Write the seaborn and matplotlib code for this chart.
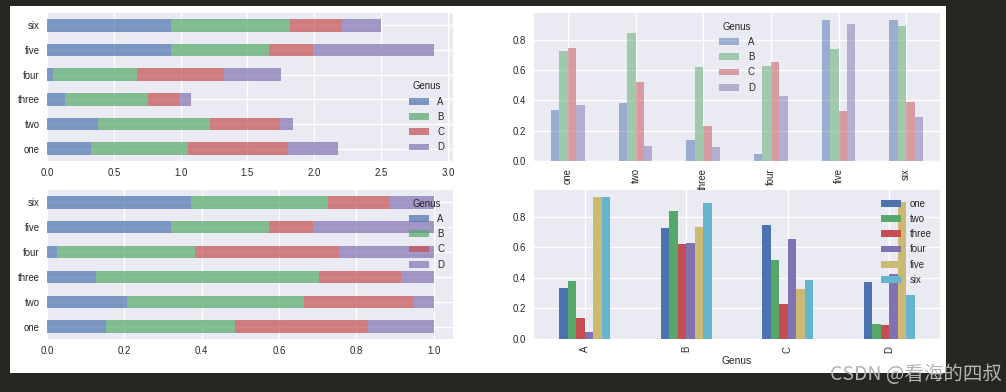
import matplotlib
matplotlib.use("Agg")
import matplotlib.pyplot as plt
from matplotlib.patches import Rectangle, Patch
import numpy as np
import pandas as pd
import seaborn as sns

# ---- data ----
rows = ['one', 'two', 'three', 'four', 'five', 'six']
genus = ['A', 'B', 'C', 'D']
A = [0.333, 0.382, 0.137, 0.045, 0.929, 0.929]
B = [0.725, 0.841, 0.619, 0.627, 0.735, 0.890]
C = [0.747, 0.518, 0.229, 0.652, 0.330, 0.389]
D = [0.372, 0.100, 0.091, 0.428, 0.900, 0.291]

colors = ["#4C72B0", "#55A868", "#C44E52", "#8172B2", "#CCB974", "#64B5CD"]

wide = pd.DataFrame({'A': A, 'B': B, 'C': C, 'D': D}, index=rows)
wide.columns.name = 'Genus'
long_df = wide.reset_index(names='row').melt(id_vars='row', var_name='Genus', value_name='value')

sns.set_theme(style='darkgrid', rc={
    'xtick.major.size': 0, 'ytick.major.size': 0,
    'xtick.major.pad': 5.0, 'ytick.major.pad': 5.5,
    'grid.linewidth': 1.0,
})
plt.rcParams['font.family'] = ['Liberation Sans', 'DejaVu Sans']
TICK = 6.9
TXT = '.15'

W, H = 1006, 392
fig = plt.figure(figsize=(W / 100, H / 100), dpi=100, facecolor='#262622')
fig.add_artist(Rectangle((10 / W, 1 - 373 / H), (946 - 10) / W, (373 - 6) / H,
                         transform=fig.transFigure, facecolor='white',
                         edgecolor='none', zorder=-10))


def add_ax(l, t, r, b):
    return fig.add_axes([l / W, 1 - b / H, (r - l) / W, (b - t) / H])


ax_tl = add_ax(47, 13, 453, 161)
ax_tr = add_ax(534, 13, 940, 161)
ax_bl = add_ax(47, 190, 453, 339)
ax_br = add_ax(534, 190, 940, 339)


def legend(ax, n, alpha, labels, title, loc):
    handles = [Patch(facecolor=colors[i], alpha=alpha, edgecolor='none') for i in range(n)]
    lg = ax.legend(handles, labels, title=title, loc=loc, frameon=False,
                   fontsize=TICK, title_fontsize=TICK, labelspacing=0.55,
                   handlelength=2.1, handleheight=0.7, handletextpad=0.9)
    return lg


def stacked(ax, data, xmax):
    pos = np.arange(len(rows))
    left = np.zeros(len(rows))
    for i, g in enumerate(genus):
        vals = data[g].values
        ax.barh(pos, vals, left=left, height=0.5, color=colors[i], alpha=0.7,
                linewidth=0)
        left = left + vals
    ax.set_yticks(pos)
    ax.set_yticklabels(rows)
    ax.set_ylim(-0.5, len(rows) - 0.5)
    ax.set_xlim(0, xmax)


# top-left: stacked raw values
tot = wide.sum(axis=1)
stacked(ax_tl, wide, tot.max() * 1.05)
legend(ax_tl, 4, 0.7, genus, 'Genus', 'lower right')

# bottom-left: normalized stacked
norm = wide.div(tot, axis=0)
stacked(ax_bl, norm, 1.05)
legend(ax_bl, 4, 0.7, genus, 'Genus', 'upper right')

# top-right: grouped by row
sns.barplot(data=long_df, x='row', y='value', hue='Genus', order=rows,
            hue_order=genus, palette=colors[:4], width=0.5, alpha=0.5,
            saturation=1, errorbar=None, linewidth=0, legend=False, ax=ax_tr)
ax_tr.set_ylim(0, long_df['value'].max() * 1.05)
ax_tr.set_xlim(-0.5, len(rows) - 0.5)
ax_tr.set_xlabel('')
ax_tr.set_ylabel('')
ax_tr.xaxis.grid(True)
ax_tr.tick_params(axis='x', labelrotation=90)
legend(ax_tr, 4, 0.5, genus, 'Genus', 'upper center')

# bottom-right: grouped by genus
sns.barplot(data=long_df, x='Genus', y='value', hue='row', order=genus,
            hue_order=rows, palette=colors, width=0.5, saturation=1,
            errorbar=None, linewidth=0, legend=False, ax=ax_br)
ax_br.set_ylim(0, long_df['value'].max() * 1.05)
ax_br.set_xlim(-0.5, len(genus) - 0.5)
ax_br.set_ylabel('')
ax_br.set_xlabel('Genus', fontsize=7.4, color=TXT, labelpad=2)
ax_br.xaxis.grid(True)
ax_br.tick_params(axis='x', labelrotation=90)
legend(ax_br, 6, 1.0, rows, None, 'upper right')

for ax in (ax_tl, ax_tr, ax_bl, ax_br):
    ax.tick_params(labelsize=TICK, labelcolor=TXT)
    for s in ax.spines.values():
        s.set_visible(False)
    ax.set_axisbelow(True)
    for t in ax.get_legend().get_texts():
        t.set_color(TXT)

fig.text(1002 / W, 1 - 374 / H, 'CSDN @看海的四叔', ha='right', va='center',
         fontsize=14, color='#b4b4b4',
         family=['Noto Sans CJK SC', 'DejaVu Sans'])

fig.savefig('out.png', dpi=100, facecolor=fig.get_facecolor())
